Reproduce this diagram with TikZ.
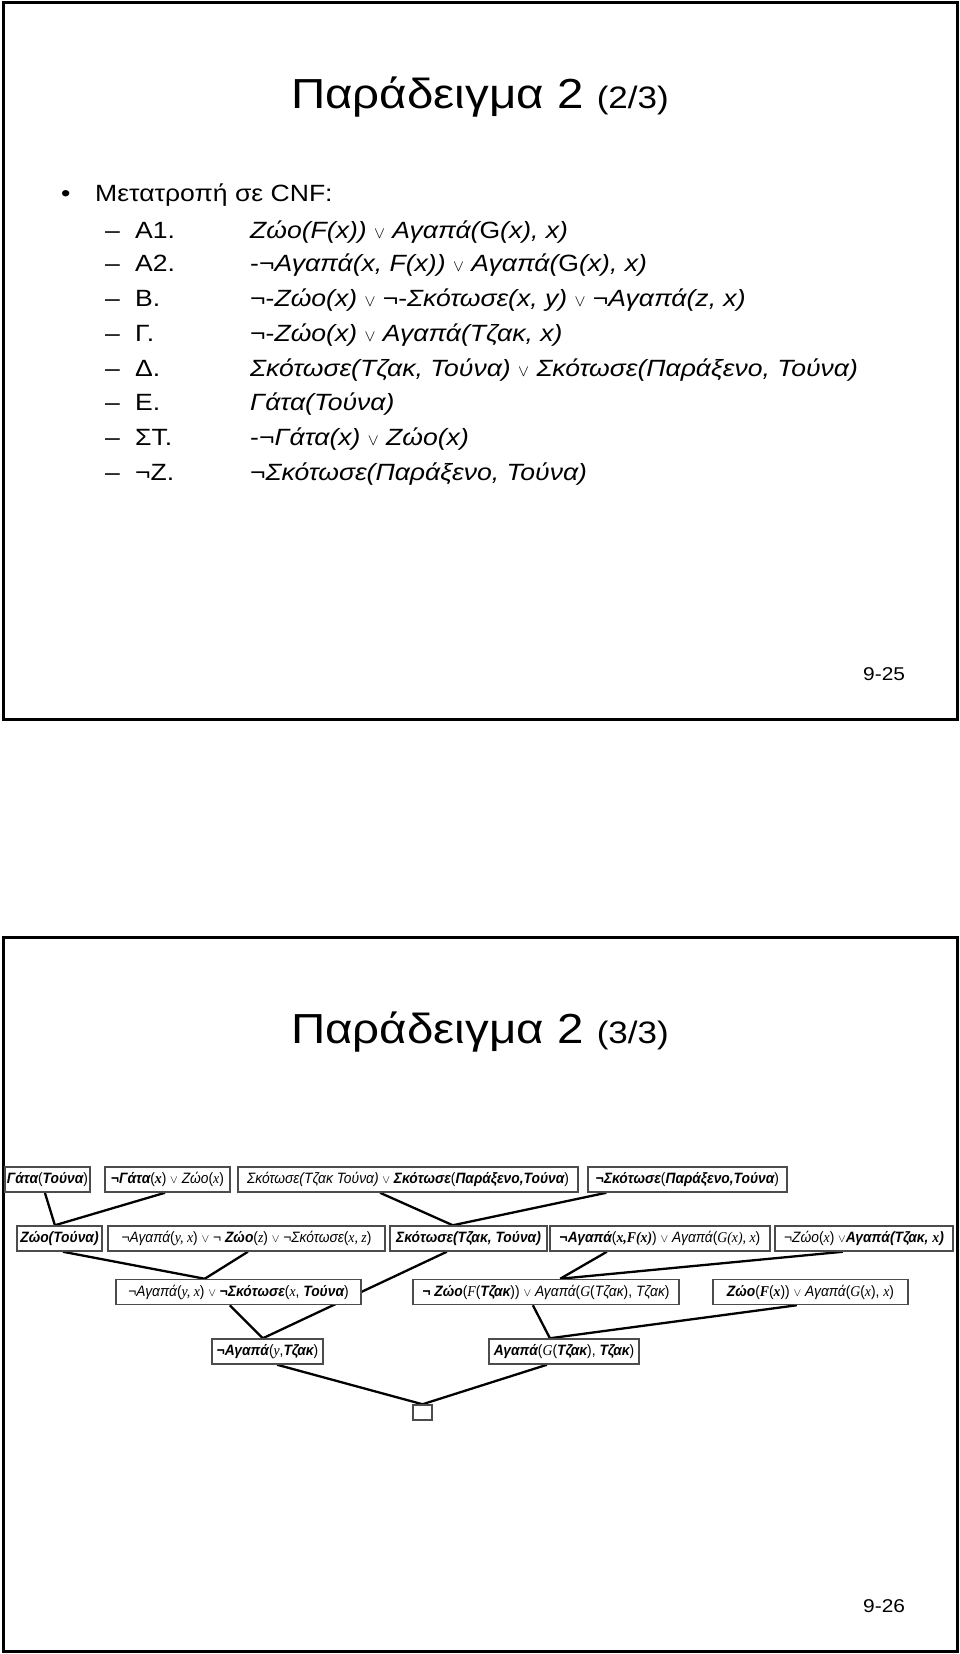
\documentclass[tikz,border=0pt]{standalone}
\usepackage{fontspec}
\usepackage{graphicx}
\setmainfont[FakeStretch=1.13]{Liberation Sans}
\newfontfamily\tsans[FakeStretch=0.92]{Liberation Sans}
\newfontfamily\tserif[FakeStretch=0.92]{Liberation Serif}
\usetikzlibrary{calc,backgrounds}
\newcommand\vor{\scalebox{0.66}{$\vee$}}
\newcommand\vorT{\scalebox{0.8}{$\vee$}}
\newcommand\xBI[1]{{\bfseries\itshape #1}}
\newcommand\xIT[1]{{\itshape #1}}
\newcommand\xTV[1]{{\tserif\itshape #1}}
\newcommand\xTB[1]{{\tserif\bfseries\itshape #1}}
\tikzset{
  frame/.style={line width=3pt, black},
  ttl/.style={anchor=base, inner sep=0pt, font=\fontsize{42}{46}\selectfont},
  body/.style={anchor=base west, inner sep=0pt, font=\fontsize{23.5}{28}\selectfont},
  pnum/.style={anchor=base west, inner sep=0pt, font=\fontsize{18.5}{22}\selectfont},
  tbox/.style={draw=black!70, line width=1.5pt, fill=white, inner sep=1.2pt,
    minimum height=25pt, font=\tsans\fontsize{15}{17}\selectfont},
  conn/.style={line width=2.3pt, black}
}
\begin{document}
\begin{tikzpicture}[x=1pt,y=-1pt]
\useasboundingbox (0,0) rectangle (960,1654);
% ---------------- slide 1 ----------------
\draw[frame] (3,3) rectangle (957,719);
\node[ttl] (t1) at (480,108) {Παράδειγμα 2 {\fontsize{31}{34}\selectfont (2/3)}};
\node[body] (bul) at (61,201) {•};
\node[body] (cnf) at (95,201) {Μετατροπή σε CNF:};
\foreach \yy/\lab [count=\i] in {238/Α1., 271/Α2., 306/Β., 341/Γ., 376/Δ., 410/Ε., 445/ΣΤ., 480/¬Ζ.}{
  \node[body] (d\i) at (105,\yy) {–};
  \node[body] (l\i) at (135,\yy) {\lab};
}
\node[body] (f1) at (250,238) {\itshape Ζώο(F(x)) \vor{} Αγαπά(\upshape G\itshape (x), x)};
\node[body] (f2) at (250,271) {-\itshape ¬Αγαπά(x, F(x)) \vor{} Αγαπά(\upshape G\itshape (x), x)};
\node[body] (f3) at (250,306) {¬-\itshape Ζώο(x) \upshape\vor{} ¬-\itshape Σκότωσε(x, y) \vor{} ¬Αγαπά(z, x)};
\node[body] (f4) at (250,341) {¬-\itshape Ζώο(x) \vor{} Αγαπά(Τζακ, x)};
\node[body] (f5) at (250,376) {\itshape Σκότωσε(Τζακ, Τούνα) \vor{} Σκότωσε(Παράξενο, Τούνα)};
\node[body] (f6) at (250,410) {\itshape Γάτα(Τούνα)};
\node[body] (f7) at (250,445) {-\itshape ¬Γάτα(x) \vor{} Ζώο(x)};
\node[body] (f8) at (250,480) {¬\itshape Σκότωσε(Παράξενο, Τούνα)};
\node[pnum] (p1) at (863,680) {9-25};
% ---------------- slide 2 ----------------
\draw[frame] (3,937) rectangle (957,1651);
\node[ttl] (t2) at (480,1043) {Παράδειγμα 2 {\fontsize{31}{34}\selectfont (3/3)}};
% row 1
\node[tbox, minimum width=85pt]  (r1a) at (47.5,1179.5) {\xBI{Γάτα}(\xBI{Τούνα})};
\node[tbox, minimum width=125pt] (r1b) at (167.5,1179.5) {\xBI{¬Γάτα}(\xTB{x}) \vorT{} \xIT{Ζώο}(\xTV{x})};
\node[tbox, minimum width=340pt] (r1c) at (408,1179.5) {\xIT{Σκότωσε(Τζακ Τούνα)} \vorT{} \xBI{Σκότωσε}(\xBI{Παράξενο,Τούνα})};
\node[tbox, minimum width=199pt] (r1d) at (687.5,1179.5) {\xBI{¬Σκότωσε}(\xBI{Παράξενο,Τούνα})};
% row 2
\node[tbox, minimum width=85pt]  (r2a) at (59.5,1238.5) {\xBI{Ζώο(Τούνα)}};
\node[tbox, minimum width=277pt] (r2b) at (246.5,1238.5) {¬\xIT{Αγαπά}(\xTV{y, x}) \vorT{} ¬ \xBI{Ζώο}(\xTV{z}) \vorT{} ¬\xIT{Σκότωσε}(\xTV{x, z})};
\node[tbox, minimum width=157pt] (r2c) at (468.5,1238.5) {\xBI{Σκότωσε(Τζακ, Τούνα)}};
\node[tbox, minimum width=220pt] (r2d) at (660,1238.5) {\xBI{¬Αγαπά}(\xTB{x,F(x)}) \vorT{} \xIT{Αγαπά}(\xTV{G(x), x})};
\node[tbox, minimum width=178pt] (r2e) at (864,1238.5) {¬\xIT{Ζώο}(\xTV{x}) \vorT{}\xBI{Αγαπά(Τζακ, }\xTB{x}\xBI{)}};
% row 3
\node[tbox, minimum width=245pt] (r3a) at (238.5,1292) {¬\xIT{Αγαπά}(\xTV{y, x}) \vorT{} \xBI{¬Σκότωσε}(\xTV{x}, \xBI{Τούνα})};
\node[tbox, minimum width=266pt] (r3b) at (546,1292) {\xBI{¬ Ζώο}(\xTV{F}(\xBI{Τζακ})) \vorT{} \xIT{Αγαπά}(\xTV{G}(\xIT{Τζακ}), \xIT{Τζακ})};
\node[tbox, minimum width=195pt] (r3c) at (810.5,1292) {\xBI{Ζώο}(\xTB{F}(\xTB{x})) \vorT{} \xIT{Αγαπά}(\xTV{G}(\xTV{x}), \xTV{x})};
% row 4
\node[tbox, minimum width=111pt] (r4a) at (267.5,1351.5) {\xBI{¬Αγαπά}(\xTV{y},\xBI{Τζακ})};
\node[tbox, minimum width=150pt] (r4b) at (564,1351.5) {\xBI{Αγαπά}(\xTV{G}(\xBI{Τζακ}), \xBI{Τζακ})};
% empty clause
\node[draw=black!70, line width=1.5pt, fill=white, minimum width=19pt, minimum height=15pt, inner sep=0pt] (sq) at (422.5,1412.5) {};
\node[pnum] (p2) at (863,1612) {9-26};
% junction points
\coordinate (j1) at ($(r2a.north west)!0.447!(r2a.north east)$);
\coordinate (j2) at ($(r2c.north west)!0.401!(r2c.north east)$);
\coordinate (j3) at ($(r3a.north west)!0.363!(r3a.north east)$);
\coordinate (j4) at ($(r3b.north west)!0.553!(r3b.north east)$);
\coordinate (j5) at ($(r4a.north west)!0.459!(r4a.north east)$);
\coordinate (j6) at ($(r4b.north west)!0.407!(r4b.north east)$);
\coordinate (j7) at (sq.north);
% start points
\coordinate (s1a) at ($(r1a.south west)!0.47!(r1a.south east)$);
\coordinate (s1b) at ($(r1b.south west)!0.48!(r1b.south east)$);
\coordinate (s1c) at ($(r1c.south west)!0.418!(r1c.south east)$);
\coordinate (s1d) at ($(r1d.south west)!0.095!(r1d.south east)$);
\coordinate (s2a) at ($(r2a.south west)!0.54!(r2a.south east)$);
\coordinate (s2b) at ($(r2b.south west)!0.505!(r2b.south east)$);
\coordinate (s2c) at ($(r2c.south west)!0.363!(r2c.south east)$);
\coordinate (s2d) at ($(r2d.south west)!0.26!(r2d.south east)$);
\coordinate (s2e) at ($(r2e.south west)!0.382!(r2e.south east)$);
\coordinate (s3a) at ($(r3a.south west)!0.465!(r3a.south east)$);
\coordinate (s3b) at ($(r3b.south west)!0.451!(r3b.south east)$);
\coordinate (s3c) at ($(r3c.south west)!0.43!(r3c.south east)$);
\coordinate (s4a) at ($(r4a.south west)!0.586!(r4a.south east)$);
\coordinate (s4b) at ($(r4b.south west)!0.387!(r4b.south east)$);
\begin{pgfonlayer}{background}
\draw[conn] (s1a) -- (j1);
\draw[conn] (s1b) -- (j1);
\draw[conn] (s1c) -- (j2);
\draw[conn] (s1d) -- (j2);
\draw[conn] (s2a) -- (j3);
\draw[conn] (s2b) -- (j3);
\draw[conn] (s2c) -- (j5);
\draw[conn] (s2d) -- (j4);
\draw[conn] (s2e) -- (j4);
\draw[conn] (s3a) -- (j5);
\draw[conn] (s3b) -- (j6);
\draw[conn] (s3c) -- (j6);
\draw[conn] (s4a) -- (j7);
\draw[conn] (s4b) -- (j7);
\end{pgfonlayer}
\end{tikzpicture}
\end{document}
